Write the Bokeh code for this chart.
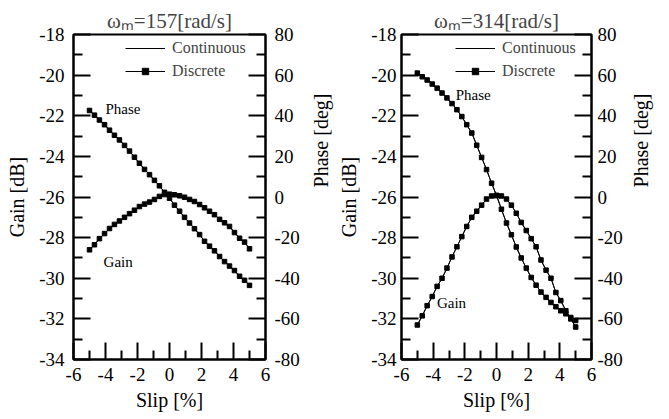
import math
from bokeh.plotting import figure
from bokeh.models import (LinearAxis, Range1d, FixedTicker, Legend, LegendItem, Label,
                          CustomJSTickFormatter)
from bokeh.layouts import row
from bokeh.embed import file_html
from bokeh.resources import INLINE

slip = [-5.0, -4.69, -4.38, -4.06, -3.75, -3.44, -3.13, -2.81, -2.5, -2.19, -1.88, -1.56,
        -1.25, -0.94, -0.63, -0.31, 0.0, 0.31, 0.63, 0.94, 1.25, 1.56, 1.88, 2.19, 2.5,
        2.81, 3.13, 3.44, 3.75, 4.06, 4.38, 4.69, 5.0]

gain_157 = [-28.6, -28.35, -28.05, -27.8, -27.55, -27.35, -27.18, -27.0, -26.82, -26.65,
            -26.47, -26.35, -26.25, -26.12, -25.97, -25.88, -25.86, -25.89, -25.94, -26.01,
            -26.12, -26.22, -26.37, -26.53, -26.7, -26.87, -27.1, -27.27, -27.45, -27.75,
            -28.03, -28.22, -28.55]
phase_157 = [42.6, 40.3, 37.9, 35.6, 32.9, 30.4, 28.1, 25.4, 22.6, 19.6, 16.6, 13.6, 11.0,
             8.2, 5.5, 2.3, -0.6, -4.0, -7.0, -10.0, -12.8, -15.6, -18.5, -21.8, -24.2,
             -26.5, -29.3, -31.8, -34.0, -36.2, -39.0, -41.0, -43.5]

gain_314 = [-32.3, -31.85, -31.35, -30.9, -30.4, -30.0, -29.5, -28.95, -28.45, -27.95,
            -27.45, -27.0, -26.7, -26.4, -26.1, -25.95, -25.93, -25.95, -26.1, -26.4, -26.8,
            -27.25, -27.65, -28.05, -28.45, -29.1, -29.6, -30.0, -30.7, -31.1, -31.6, -32.0,
            -32.4]
phase_314 = [61.0, 59.2, 57.6, 55.6, 53.6, 51.2, 48.8, 46.0, 43.0, 39.6, 35.6, 31.5, 25.5,
             19.5, 13.5, 6.8, 0.8, -6.0, -12.8, -18.6, -24.6, -30.0, -35.0, -39.6, -43.4,
             -46.8, -49.4, -51.9, -54.0, -56.0, -57.5, -59.3, -60.8]

x_ticks = [-6, -4, -2, 0, 2, 4, 6]
x_minor = [-5, -3, -1, 1, 3, 5]
gain_ticks = [-34, -32, -30, -28, -26, -24, -22, -20, -18]
gain_minor = [-33, -31, -29, -27, -25, -23, -21, -19]
phase_ticks = [-80, -60, -40, -20, 0, 20, 40, 60, 80]
phase_minor = [-70, -50, -30, -10, 10, 30, 50, 70]

titles = ["\u03c9\u2098=157[rad/s]", "\u03c9\u2098=314[rad/s]"]
legend_labels = ["Continuous", "Discrete"]
phase_axis_label = "Phase [deg]"

FONT = "Liberation Serif"
H = 419


def style_axis(ax, standoff):
    ax.axis_line_width = 2
    ax.axis_line_color = "black"
    ax.major_tick_line_width = 2
    ax.minor_tick_line_width = 2
    ax.major_tick_in = 17
    ax.major_tick_out = 0
    ax.minor_tick_in = 9
    ax.minor_tick_out = 0
    ax.major_label_text_font = FONT
    ax.major_label_text_font_size = "19px"
    ax.major_label_text_color = "black"
    ax.major_label_standoff = standoff
    ax.axis_label_text_font = FONT
    ax.axis_label_text_font_size = "20px"
    ax.axis_label_text_font_style = "normal"
    ax.axis_label_text_color = "black"
    ax.formatter = CustomJSTickFormatter(code="return tick.toString();")


def panel(title, gain, phase, width, bl, br, lstand, rstand, legx, phase_lbl, gain_lbl):
    p = figure(width=width, height=H, x_range=Range1d(-6, 6), y_range=Range1d(-34, -18),
               output_backend="svg", toolbar_location=None,
               min_border_left=bl, min_border_right=br, min_border_top=34,
               min_border_bottom=60, title=title)
    p.extra_y_ranges = {"phase": Range1d(-80, 80)}
    p.title.text_font = FONT
    p.title.text_font_size = "21px"
    p.title.text_font_style = "normal"
    p.title.align = "center"
    p.title.standoff = 3
    p.outline_line_color = "black"
    p.outline_line_width = 2
    p.xgrid.visible = False
    p.ygrid.visible = False

    p.xaxis.ticker = FixedTicker(ticks=x_ticks, minor_ticks=x_minor)
    p.xaxis.axis_label = "Slip [%]"
    style_axis(p.xaxis[0], 8)
    p.xaxis.axis_label_standoff = 5

    p.yaxis.ticker = FixedTicker(ticks=gain_ticks, minor_ticks=gain_minor)
    p.yaxis.axis_label = "Gain [dB]"
    style_axis(p.yaxis[0], lstand)
    p.yaxis.axis_label_standoff = 8

    rax = LinearAxis(y_range_name="phase",
                     ticker=FixedTicker(ticks=phase_ticks, minor_ticks=phase_minor))
    style_axis(rax, rstand)
    p.add_layout(rax, "right")

    c1 = p.line(slip, gain, line_color="black", line_width=1)
    p.line(slip, phase, line_color="black", line_width=1, y_range_name="phase")
    d1 = p.line(slip, gain, line_color="black", line_width=1)
    p.line(slip, phase, line_color="black", line_width=1, y_range_name="phase")
    s1 = p.scatter(slip, gain, marker="square", size=4.5, color="black")
    p.scatter(slip, phase, marker="square", size=4.5, color="black", y_range_name="phase")

    leg = Legend(items=[LegendItem(label=legend_labels[0], renderers=[c1]),
                        LegendItem(label=legend_labels[1], renderers=[d1, s1])],
                 location=(legx, 279), border_line_color=None, background_fill_alpha=0,
                 label_text_font=FONT, label_text_font_size="16px", glyph_width=40,
                 glyph_height=16, label_standoff=7, spacing=5, padding=0, margin=0,
                 label_height=18)
    p.add_layout(leg)

    for txt, (lx, ly) in (("Phase", phase_lbl), ("Gain", gain_lbl)):
        p.add_layout(Label(x=lx, y=ly, text=txt, text_font=FONT, text_font_size="15px",
                           text_baseline="middle", text_color="black"))
    return p


def axis_title_strip(width, cx):
    """Narrow strip holding the right-axis title, reading bottom-to-top."""
    s = figure(width=width, height=H, x_range=Range1d(0, 1), y_range=Range1d(0, 1),
               output_backend="svg", toolbar_location=None, x_axis_type=None,
               y_axis_type=None, min_border_left=0, min_border_right=0, min_border_top=0,
               min_border_bottom=0)
    s.outline_line_color = None
    s.xgrid.visible = False
    s.ygrid.visible = False
    s.add_layout(Label(x=cx, y=H - 200, x_units="screen", y_units="screen",
                       text=phase_axis_label, angle=math.pi / 2, text_align="center",
                       text_baseline="middle", text_font=FONT, text_font_size="20px",
                       text_color="black"))
    return s


p1 = panel(titles[0], gain_157, phase_157, 308, 73, 43, 9, 9, 52,
           (-4.0, -21.65), (-4.12, -29.2))
s1 = axis_title_strip(27, 12)
p2 = panel(titles[1], gain_314, phase_314, 295, 63, 39, 5, 6, 54,
           (-2.58, -20.96), (-3.76, -31.2))
s2 = axis_title_strip(30, 10)

layout = row(p1, s1, p2, s2, spacing=0)
open("out.html", "w").write(file_html(layout, INLINE))
